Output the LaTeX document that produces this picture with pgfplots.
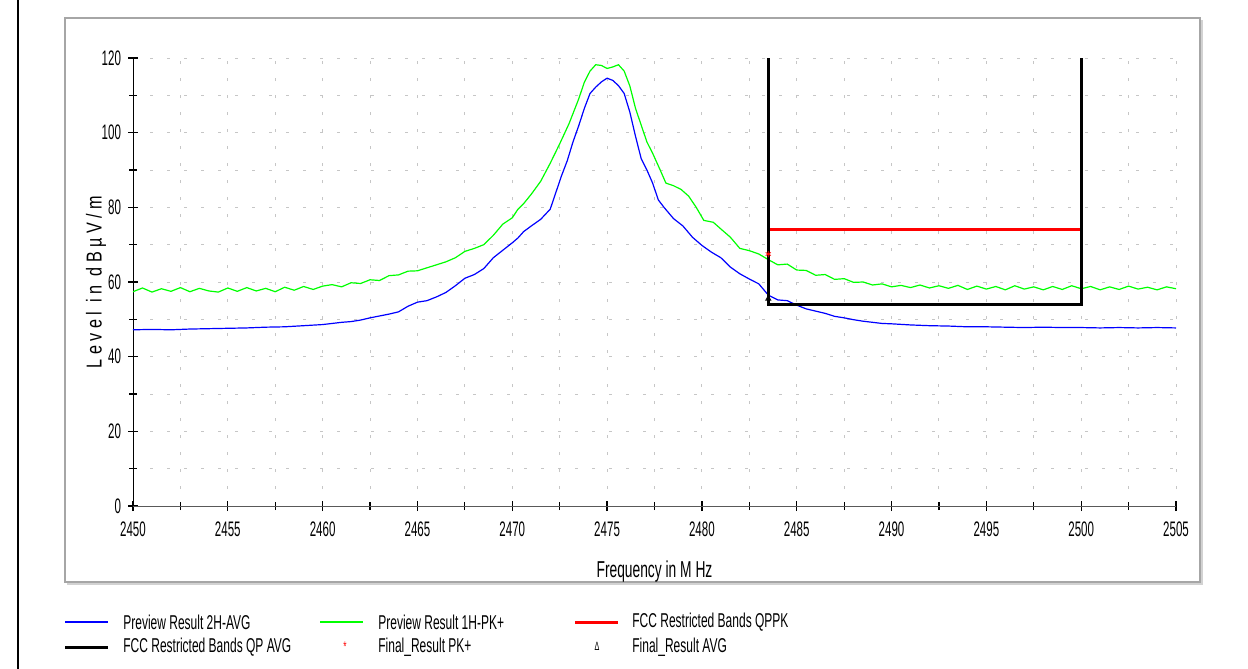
\documentclass[border=0pt]{standalone}
\usepackage{fontspec}
\setmainfont{Liberation Sans}[FakeStretch=0.6]
\newfontfamily\tickfont{Liberation Sans}[FakeStretch=0.55]
\newfontfamily\ylabfont{Liberation Sans}[FakeStretch=0.75]
\usepackage{pgfplots}
\pgfplotsset{compat=1.18}
\definecolor{pkgreen}{RGB}{0,255,0}
\definecolor{avblue}{RGB}{0,0,255}
\definecolor{fccred}{RGB}{255,0,0}
\begin{document}
\begin{tikzpicture}
\useasboundingbox (0,0) rectangle (624pt,-334.5pt);
% outer frame and side rule
\draw[line width=1pt] (9pt,0pt) -- (9pt,-334.5pt);
\draw[gray!35,line width=1.2pt] (33.5pt,-292pt) -- (601pt,-292pt) -- (601pt,-10pt);
\draw[gray!70,line width=0.8pt] (32.5pt,-9pt) rectangle (600pt,-291pt);
\begin{axis}[
  at={(66.5pt,-253pt)}, anchor=south west,
  scale only axis, width=521.5pt, height=224pt,
  xmin=2450, xmax=2505, ymin=0, ymax=120,
  axis lines=left, axis line style={-},
  x axis line style={black!65},
  y axis line style={black},
  xtick={2450,2455,...,2505}, minor x tick num=1,
  ytick={0,20,...,120}, minor y tick num=1,
  tick align=center, major tick length=5pt, minor tick length=4pt,
  tick style={black, line width=0.6pt},
  grid=both,
  major grid style={gray!45, line width=0.5pt, dash pattern=on 1.5pt off 7pt},
  minor grid style={gray!45, line width=0.5pt, dash pattern=on 1.5pt off 7pt},
  /pgf/number format/assume math mode=true,
  /pgf/number format/set thousands separator={},
  ticklabel style={font=\tickfont\fontsize{10.5}{11}\selectfont},
  xticklabel style={yshift=-2pt},
  xlabel={Frequency in M Hz},
  xlabel style={font=\fontsize{11.5}{12}\selectfont, at={(axis description cs:0.5,-0.147)}, anchor=center},
  ylabel={\ylabfont L e v e l \ i n \ d B µ V / m},
  ylabel style={font=\fontsize{10.8}{12}\selectfont, at={(axis description cs:-0.0355,0.5)}, anchor=center},
  clip=false,
]
% Preview Result 1H-PK+ (green)
\addplot[pkgreen, line width=0.6pt] table {
2450 57.4
2450.5 58.4
2451 57.3
2451.5 58.2
2452 57.5
2452.5 58.5
2453 57.4
2453.5 58.3
2454 57.6
2454.5 57.3
2455 58.4
2455.5 57.5
2456 58.5
2456.5 57.6
2457 58.3
2457.5 57.4
2458 58.6
2458.5 57.8
2459 58.8
2459.5 58.0
2460 58.9
2460.5 59.3
2461 58.7
2461.5 59.8
2462 59.6
2462.5 60.6
2463 60.4
2463.5 61.7
2464 61.9
2464.5 62.9
2465 63.0
2465.5 63.8
2466 64.6
2466.5 65.4
2467 66.5
2467.5 68.2
2468 69.0
2468.5 70.0
2469 72.5
2469.5 75.5
2470 77.2
2470.3 79.5
2470.6 81.0
2471 83.5
2471.5 87.0
2472 91.8
2472.5 97.0
2473 102.5
2473.5 109.0
2473.8 113.5
2474.1 116.5
2474.4 118.2
2474.7 118.0
2475 117.2
2475.3 117.6
2475.6 118.2
2475.9 116.5
2476.2 112.5
2476.5 106.5
2476.8 102.0
2477.1 97.5
2477.4 94.5
2477.8 90.0
2478.1 86.5
2478.5 85.8
2478.9 84.8
2479.3 83.0
2479.7 80.0
2480.1 76.5
2480.6 76.0
2481 74.2
2481.5 72.0
2482 69.0
2482.5 68.4
2483 67.5
2483.5 66.0
2484 64.6
2484.5 64.8
2485 63.2
2485.5 63.1
2486 61.8
2486.5 62.0
2487 60.7
2487.5 60.9
2488 59.9
2488.5 60.0
2489 59.2
2489.5 59.5
2490 58.7
2490.5 59.1
2491 58.5
2491.5 59.2
2492 58.4
2492.5 59.0
2493 58.3
2493.5 59.1
2494 58.0
2494.5 58.9
2495 58.1
2495.5 58.8
2496 57.9
2496.5 59.0
2497 58.1
2497.5 58.7
2498 57.9
2498.5 58.8
2499 58.0
2499.5 59.0
2500 58.2
2500.5 58.8
2501 57.9
2501.5 58.7
2502 58.0
2502.5 58.9
2503 58.1
2503.5 58.6
2504 57.9
2504.5 58.7
2505 58.2
};
% Preview Result 2H-AVG (blue)
\addplot[avblue, line width=0.6pt] table {
2450 47.2
2451 47.3
2452 47.2
2453 47.4
2454 47.5
2455 47.6
2456 47.7
2457 47.9
2458 48.0
2459 48.3
2460 48.6
2460.5 48.9
2461 49.2
2461.5 49.4
2462 49.8
2462.5 50.4
2463 50.9
2463.5 51.4
2464 52.0
2464.5 53.5
2465 54.6
2465.5 55.0
2466 56.0
2466.5 57.2
2467 59.0
2467.5 61.0
2468 62.0
2468.5 63.6
2469 66.5
2469.5 68.5
2470 70.5
2470.3 71.8
2470.6 73.5
2471 75.0
2471.5 76.8
2472 79.5
2472.3 84.0
2472.6 88.5
2472.9 92.5
2473.2 97.5
2473.5 101.8
2473.8 106.5
2474.1 110.5
2474.4 112.2
2474.7 113.6
2475 114.6
2475.3 114.0
2475.6 112.6
2475.9 110.5
2476.2 105.5
2476.5 99.0
2476.8 93.0
2477.1 90.0
2477.4 86.5
2477.7 82.0
2478 80.0
2478.5 77.0
2479 75.0
2479.5 72.0
2480 69.8
2480.5 68.0
2481 66.5
2481.5 64.0
2482 62.2
2482.5 60.8
2483 59.5
2483.5 56.5
2484 55.2
2484.5 55.0
2485 53.8
2485.5 52.8
2486 52.2
2486.5 51.6
2487 50.8
2487.5 50.4
2488 49.9
2488.5 49.5
2489 49.2
2489.5 48.9
2490 48.8
2491 48.5
2492 48.3
2493 48.2
2494 48.0
2495 48.0
2496 47.9
2497 47.8
2498 47.9
2499 47.8
2500 47.8
2501 47.7
2502 47.8
2503 47.7
2504 47.8
2505 47.7
};
% FCC Restricted Bands QPPK (red)
\addplot[fccred, line width=1.5pt] coordinates {(2483.5,74) (2500,74)};
% FCC Restricted Bands QP AVG (black)
\addplot[black, line width=1.5pt] coordinates {(2483.5,120) (2483.5,54) (2500,54) (2500,120)};
% Final results
\addplot[only marks, mark=asterisk, fccred, mark size=1.5pt] coordinates {(2483.5,67.5)};
\addplot[only marks, mark=triangle, black, mark size=1.5pt] coordinates {(2483.5,55.5)};
\end{axis}
% legend
\begin{scope}[every node/.style={font=\fontsize{10}{11}\selectfont, anchor=west, inner sep=0pt}]
\draw[avblue, line width=0.6pt] (32.5pt,-311pt) -- (54pt,-311pt);
\node at (61.5pt,-311pt) {Preview Result 2H-AVG};
\draw[pkgreen, line width=0.6pt] (160pt,-311pt) -- (181.5pt,-311pt);
\node at (189pt,-311pt) {Preview Result 1H-PK+};
\draw[fccred, line width=1.5pt] (287.5pt,-311pt) -- (309pt,-311pt);
\node at (316pt,-311pt) {FCC Restricted Bands QPPK};
\draw[black, line width=1.5pt] (32.5pt,-323.5pt) -- (54pt,-323.5pt);
\node at (61.5pt,-323.5pt) {FCC Restricted Bands QP AVG};
\node[text=fccred, font=\fontsize{7}{7}\selectfont, anchor=center] at (172.5pt,-323.5pt) {*};
\node at (189pt,-323.5pt) {Final\_Result PK+};
\node[font=\fontsize{6}{6}\selectfont, anchor=center] at (298.5pt,-323pt) {Δ};
\node at (316pt,-323.5pt) {Final\_Result AVG};
\end{scope}
\end{tikzpicture}
\end{document}
